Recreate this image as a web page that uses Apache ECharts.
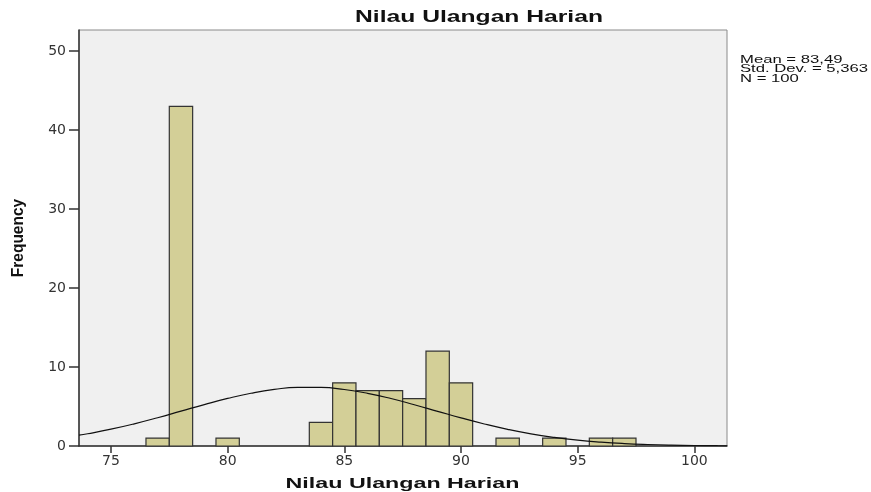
<!DOCTYPE html>
<html><head><meta charset="utf-8">
<script src="https://cdn.jsdelivr.net/npm/echarts@6/dist/echarts.min.js"></script>
<style>html,body{margin:0;padding:0;background:#fff}#c{width:871px;height:492px}</style>
</head><body><div id="c"></div>
<script>
// Histogram bins (centre of each 1-unit bin) and frequencies
const binCenters = [77, 78, 80, 84, 85, 86, 87, 88, 89, 90, 92, 94, 96, 97];
const counts     = [1, 43, 1, 3, 8, 7, 7, 6, 12, 8, 1, 1, 1, 1];
const binWidth = 1;
// Normal curve points
const curveX = [73.63, 74, 75, 76, 77, 78, 79, 80, 81, 82, 83, 84, 85, 86, 87, 88, 89, 90, 91, 92, 93, 94, 95, 96, 97, 98, 99, 100, 101, 101.4];
const curveY = [1.37, 1.55, 2.13, 2.81, 3.58, 4.41, 5.24, 6.02, 6.68, 7.16, 7.41, 7.41, 7.15, 6.67, 6.01, 5.22, 4.39, 3.56, 2.79, 2.11, 1.54, 1.09, 0.74, 0.49, 0.31, 0.19, 0.11, 0.065, 0.036, 0.027];
const xTicks = [75, 80, 85, 90, 95, 100];
const yTicks = [0, 10, 20, 30, 40, 50];
const titleText = 'Nilau Ulangan Harian';
const xName = 'Nilau Ulangan Harian';
const yName = 'Frequency';
const statsLines = ['Mean = 83,49', 'Std. Dev. = 5,363', 'N = 100'];

const chart = echarts.init(document.getElementById('c'));
const font = 'Liberation Sans, Arial, sans-serif';
const barData = binCenters.map((c, i) => [c - binWidth / 2, c + binWidth / 2, counts[i]]);
chart.setOption({
  animation: false,
  backgroundColor: '#ffffff',
  grid: {
    left: 79, right: 144, top: 30, bottom: 46,
    containLabel: false, outerBoundsMode: 'none',
    show: true, backgroundColor: '#F0F0F0', borderColor: '#8a8a8a', borderWidth: 1
  },
  xAxis: {
    type: 'value', min: 73.63, max: 101.4,
    axisLine: { show: true, onZero: false, lineStyle: { color: '#333', width: 1.5 } },
    axisTick: { show: true, length: 7, customValues: xTicks, lineStyle: { color: '#333', width: 1.5 } },
    axisLabel: { customValues: xTicks, fontFamily: 'DejaVu Sans, sans-serif', fontSize: 14, color: '#333', margin: 8 },
    splitLine: { show: false }
  },
  yAxis: {
    type: 'value', min: 0, max: 52.66,
    axisLine: { show: true, lineStyle: { color: '#333', width: 1.5 } },
    axisTick: { show: true, length: 10, customValues: yTicks, lineStyle: { color: '#333', width: 1.5 } },
    axisLabel: { customValues: yTicks, fontFamily: 'DejaVu Sans, sans-serif', fontSize: 14, color: '#333', margin: 13 },
    splitLine: { show: false }
  },
  graphic: [{
    type: 'text', x: 479, y: 17.5, scaleX: 1.45,
    style: { text: titleText, font: 'bold 17px ' + font, fill: '#111', align: 'center', verticalAlign: 'middle' }
  }, {
    type: 'text', x: 402.5, y: 484, scaleX: 1.5,
    style: { text: xName, font: 'bold 15.5px ' + font, fill: '#111', align: 'center', verticalAlign: 'middle' }
  }, {
    type: 'text', x: 18, y: 238, rotation: Math.PI / 2, scaleX: 1.0, scaleY: 1.1,
    style: { text: yName, font: 'bold 15.5px ' + font, fill: '#111', align: 'center', verticalAlign: 'middle' }
  }, {
    type: 'text', x: 740, y: 55, scaleX: 1.45,
    style: { text: statsLines.join('\n'), font: '11.5px ' + font, fill: '#111', lineHeight: 9.5 }
  }],
  series: [{
    type: 'custom',
    data: barData,
    encode: { x: [0, 1], y: 2 },
    renderItem: function (params, api) {
      const p0 = api.coord([api.value(0), api.value(2)]);
      const p1 = api.coord([api.value(1), 0]);
      return {
        type: 'rect',
        shape: { x: p0[0], y: p0[1], width: p1[0] - p0[0], height: p1[1] - p0[1] },
        style: { fill: '#D3CF97', stroke: '#333', lineWidth: 1.2 }
      };
    }
  }, {
    type: 'line',
    data: curveX.map((x, i) => [x, curveY[i]]),
    smooth: true, showSymbol: false, symbol: 'none',
    lineStyle: { color: '#111', width: 1.2 },
    z: 5
  }]
});
</script></body></html>
